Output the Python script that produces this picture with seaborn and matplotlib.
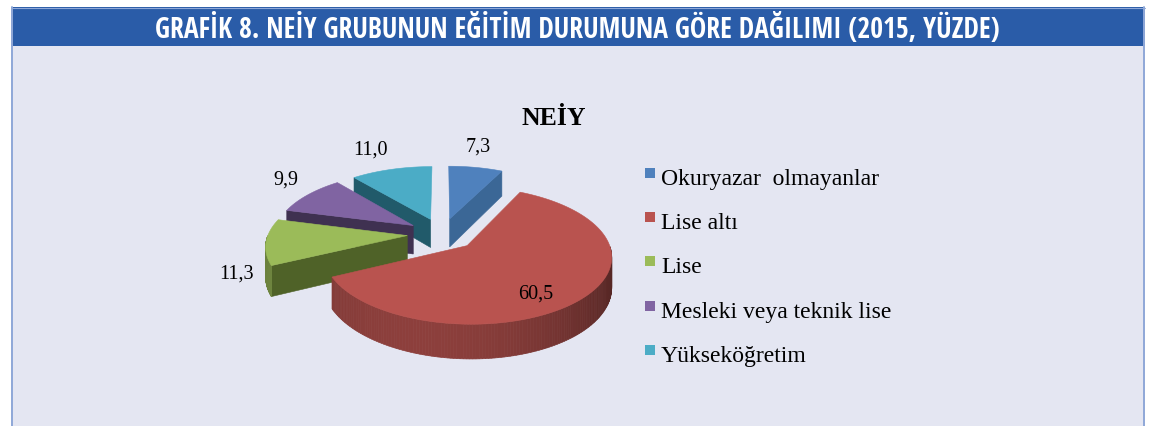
import numpy as np
import matplotlib
matplotlib.use("Agg")
import matplotlib.pyplot as plt
from matplotlib.patches import Polygon, Rectangle
from matplotlib import colors as mcolors
from matplotlib import font_manager as fm
import seaborn as sns

# ---------------- data ----------------
header_text = "GRAFİK 8. NEİY GRUBUNUN EĞİTİM DURUMUNA GÖRE DAĞILIMI (2015, YÜZDE)"
chart_title = "NEİY"
categories = ["Okuryazar  olmayanlar", "Lise altı", "Lise",
              "Mesleki veya teknik lise", "Yükseköğretim"]
values = [7.3, 60.5, 11.3, 9.9, 11.0]
value_labels = ["7,3", "60,5", "11,3", "9,9", "11,0"]
top_colors = sns.color_palette(["#4F81BD", "#B9534F", "#9BBB59", "#8064A2", "#4BACC6"])
side_colors = sns.color_palette(["#3B6796", "#8E3D3A", "#4F6228", "#3F3151", "#215A6A"])

sns.set_theme(style="white")
plt.rcParams["font.family"] = ["Liberation Serif", "DejaVu Serif"]

W, H = 1152, 427
fig = plt.figure(figsize=(W / 100, H / 100), dpi=100)
fig.patch.set_facecolor("white")
ax = fig.add_axes([0, 0, 1, 1])
ax.set_xlim(0, W)
ax.set_ylim(H, 0)
ax.axis("off")

# ---------------- frame ----------------
ax.add_patch(Rectangle((11, 47), 1134, H - 47 + 5, facecolor="#E4E6F2", edgecolor="none", zorder=0))
ax.add_patch(Rectangle((11, 8), 1134, 39, facecolor="#2A5CA8", edgecolor="none", zorder=1))
ax.plot([11, 1145], [8.5, 8.5], color="#8FA8D8", lw=0.8, zorder=2)
ax.plot([12, 12], [8, H], color="#8FA8D8", lw=1.4, zorder=2)
ax.plot([1144, 1144], [8, H], color="#8FA8D8", lw=1.4, zorder=2)

# header font: prefer a condensed bold sans if one is installed
header_props = None
for fam in ["Liberation Sans Narrow", "Open Sans Condensed", "Open Sans", "DejaVu Sans",
            "Roboto Condensed", "Roboto", "Noto Sans"]:
    try:
        fp = fm.FontProperties(family=fam, weight="bold", stretch="condensed")
        path = fm.findfont(fp, fallback_to_default=False)
        low = path.lower()
        if "cond" in low or "narrow" in low:
            header_props = fm.FontProperties(fname=path)
            break
    except Exception:
        pass
if header_props is None:
    header_props = fm.FontProperties(family=["Liberation Sans", "DejaVu Sans"], weight="bold")

ht = ax.text(577, 38, header_text, color="white", ha="center", va="baseline",
             zorder=3, fontproperties=header_props)
ht.set_fontsize(18)
fig.canvas.draw()
bb = ht.get_window_extent()
ht.set_fontsize(18 * 845.0 / bb.width)

# ---------------- 3D pie ----------------
cx, cy = 442.0, 235.0
RX, RY = 139.0, 64.0
PERSP = 0.14
DEPTH = 29.0
EXPLODE = 0.25


def proj(u, v, z=0.0):
    s = 1.0 + PERSP * v
    return cx + RX * u / s, cy - RY * v / s + z / s


def shade(color, f):
    r, g, b = mcolors.to_rgb(color)
    return (r * f, g * f, b * f)


fr = np.array(values) / np.sum(values)
ends = 90.0 - 360.0 * np.cumsum(fr)
starts = ends + 360.0 * fr
mids = (starts + ends) / 2.0

order = np.argsort(-np.sin(np.radians(mids)))
z = 5
for i in order:
    a2, a1, m = starts[i], ends[i], mids[i]
    mr = np.radians(m)
    ou, ov = EXPLODE * np.cos(mr), EXPLODE * np.sin(mr)
    th = np.radians(np.linspace(a2, a1, 200))
    pu, pv = ou + np.cos(th), ov + np.sin(th)

    # radial faces
    for ang, vis in ((a1, np.cos(np.radians(a1)) > 1e-6), (a2, np.cos(np.radians(a2)) < -1e-6)):
        if vis:
            ar = np.radians(ang)
            eu, ev = ou + np.cos(ar), ov + np.sin(ar)
            pts = [proj(ou, ov), proj(eu, ev), proj(eu, ev, DEPTH), proj(ou, ov, DEPTH)]
            ax.add_patch(Polygon(pts, closed=True, facecolor=side_colors[i],
                                 edgecolor=side_colors[i], lw=0.4, zorder=z))
            z += 1

    # curved outer side (front part)
    front = np.sin(th) < 0
    for k in range(len(th) - 1):
        if front[k] and front[k + 1]:
            c = np.cos((th[k] + th[k + 1]) / 2)
            f = 0.74 - 0.12 * c - 0.17 * c * c
            col = shade(top_colors[i], f)
            pts = [proj(pu[k], pv[k]), proj(pu[k + 1], pv[k + 1]),
                   proj(pu[k + 1], pv[k + 1], DEPTH), proj(pu[k], pv[k], DEPTH)]
            ax.add_patch(Polygon(pts, closed=True, facecolor=col, edgecolor=col,
                                 lw=0.5, zorder=z))
    z += 1

    # top face
    pts = [proj(ou, ov)] + [proj(a, b) for a, b in zip(pu, pv)]
    ax.add_patch(Polygon(pts, closed=True, facecolor=top_colors[i],
                         edgecolor=top_colors[i], lw=0.4, zorder=z))
    z += 1

# value labels
for i in range(len(values)):
    mr = np.radians(mids[i])
    c, s = np.cos(mr), np.sin(mr)
    ou, ov = EXPLODE * c, EXPLODE * s
    if fr[i] > 0.5:
        x, y = proj(ou + 0.62 * c, ov + 0.62 * s, DEPTH / 2)
        ax.text(x, y, value_labels[i], fontsize=14.5, ha="center", va="center",
                color="black", zorder=50)
    else:
        x, y = proj(ou + c, ov + s, DEPTH if s < 0 else 0.0)
        x += 12 * c
        y -= 12 * s
        ha = "left" if c > 0.3 else ("right" if c < -0.3 else "center")
        va = "bottom" if s > 0.3 else ("top" if s < -0.3 else "center")
        ax.text(x, y, value_labels[i], fontsize=14.5, ha=ha, va=va,
                color="black", zorder=50)

# chart title
ax.text(554, 125, chart_title, fontsize=18.5, fontweight="bold", ha="center",
        va="baseline", color="black", zorder=50)

# legend
for i, name in enumerate(categories):
    base = 185 + 44.2 * i
    ax.add_patch(Rectangle((645, base - 16), 10, 10, facecolor=top_colors[i],
                           edgecolor="none", zorder=50))
    ax.text(661, base, name, fontsize=17, ha="left", va="baseline",
            color="black", zorder=50)

fig.savefig("out.png", dpi=100, facecolor="white")
